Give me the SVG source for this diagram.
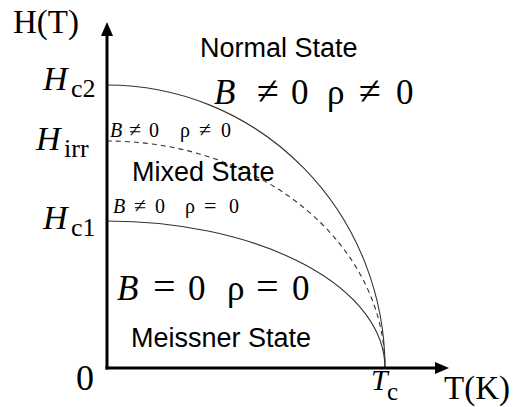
<svg xmlns="http://www.w3.org/2000/svg" width="518" height="407" viewBox="0 0 518 407">
<style>
.m{font-family:"Liberation Serif","DejaVu Serif",serif;fill:#000}
.i{font-style:italic}
.s{font-family:"Liberation Sans",Arial,sans-serif;font-size:27px;fill:#000}
.ax{stroke:#000;stroke-width:3;fill:none}
.cv{stroke:#333;stroke-width:1.1;fill:none}
</style>
<g id="connectors">
<path id="hc2" class="cv" d="M107,85 A278,283 0 0 1 385,368"/>
<path id="hirr" class="cv" d="M107,141 A278,227 0 0 1 385,368" stroke-dasharray="5,4"/>
<path id="hc1" class="cv" d="M107,221 A278,147 0 0 1 385,368"/>
<line class="ax" x1="107" y1="369.5" x2="107" y2="34"/>
<polygon points="107,22 101,36 113,36" fill="#000"/>
<line class="ax" x1="105.5" y1="368" x2="437" y2="368"/>
<polygon points="449,368 435,362 435,374" fill="#000"/>
</g>
<g id="axis-labels">
<text class="m" x="13" y="33" font-size="33">H(T)</text>
<text class="m" x="444" y="399" font-size="33">T(K)</text>
<text class="m" x="76" y="390" font-size="36">0</text>
<text class="m" y="390" font-size="30"><tspan class="i" x="371">T</tspan><tspan x="387" y="400" font-size="25">c</tspan></text>
<text class="m" y="90" font-size="34"><tspan class="i" x="43">H</tspan><tspan x="71" y="97" font-size="26">c2</tspan></text>
<text class="m" y="150" font-size="34"><tspan class="i" x="36">H</tspan><tspan x="64" y="157" font-size="26">irr</tspan></text>
<text class="m" y="229" font-size="34"><tspan class="i" x="43">H</tspan><tspan x="71" y="236" font-size="26">c1</tspan></text>
</g>
<g id="normal">
<text class="s" x="200" y="57">Normal State</text>
<text class="m" y="104" font-size="35"><tspan class="i" x="214">B</tspan><tspan x="257" font-size="40">≠</tspan><tspan x="291">0</tspan><tspan x="327">ρ</tspan><tspan x="359" font-size="40">≠</tspan><tspan x="396">0</tspan></text>
</g>
<g id="mixed">
<text class="m" y="137" font-size="20"><tspan class="i" x="110">B</tspan><tspan x="129" font-size="22">≠</tspan><tspan x="149">0</tspan><tspan x="180">ρ</tspan><tspan x="199" font-size="22">≠</tspan><tspan x="221">0</tspan></text>
<text class="s" x="132" y="181">Mixed State</text>
<text class="m" y="213" font-size="20"><tspan class="i" x="113">B</tspan><tspan x="134" font-size="22">≠</tspan><tspan x="155">0</tspan><tspan x="185">ρ</tspan><tspan x="204" font-size="22">=</tspan><tspan x="229">0</tspan></text>
</g>
<g id="meissner">
<text class="m" y="300" font-size="35"><tspan class="i" x="117">B</tspan><tspan x="153" font-size="40">=</tspan><tspan x="188">0</tspan><tspan x="227">ρ</tspan><tspan x="256" font-size="40">=</tspan><tspan x="292">0</tspan></text>
<text class="s" x="131" y="347">Meissner State</text>
</g>
</svg>
